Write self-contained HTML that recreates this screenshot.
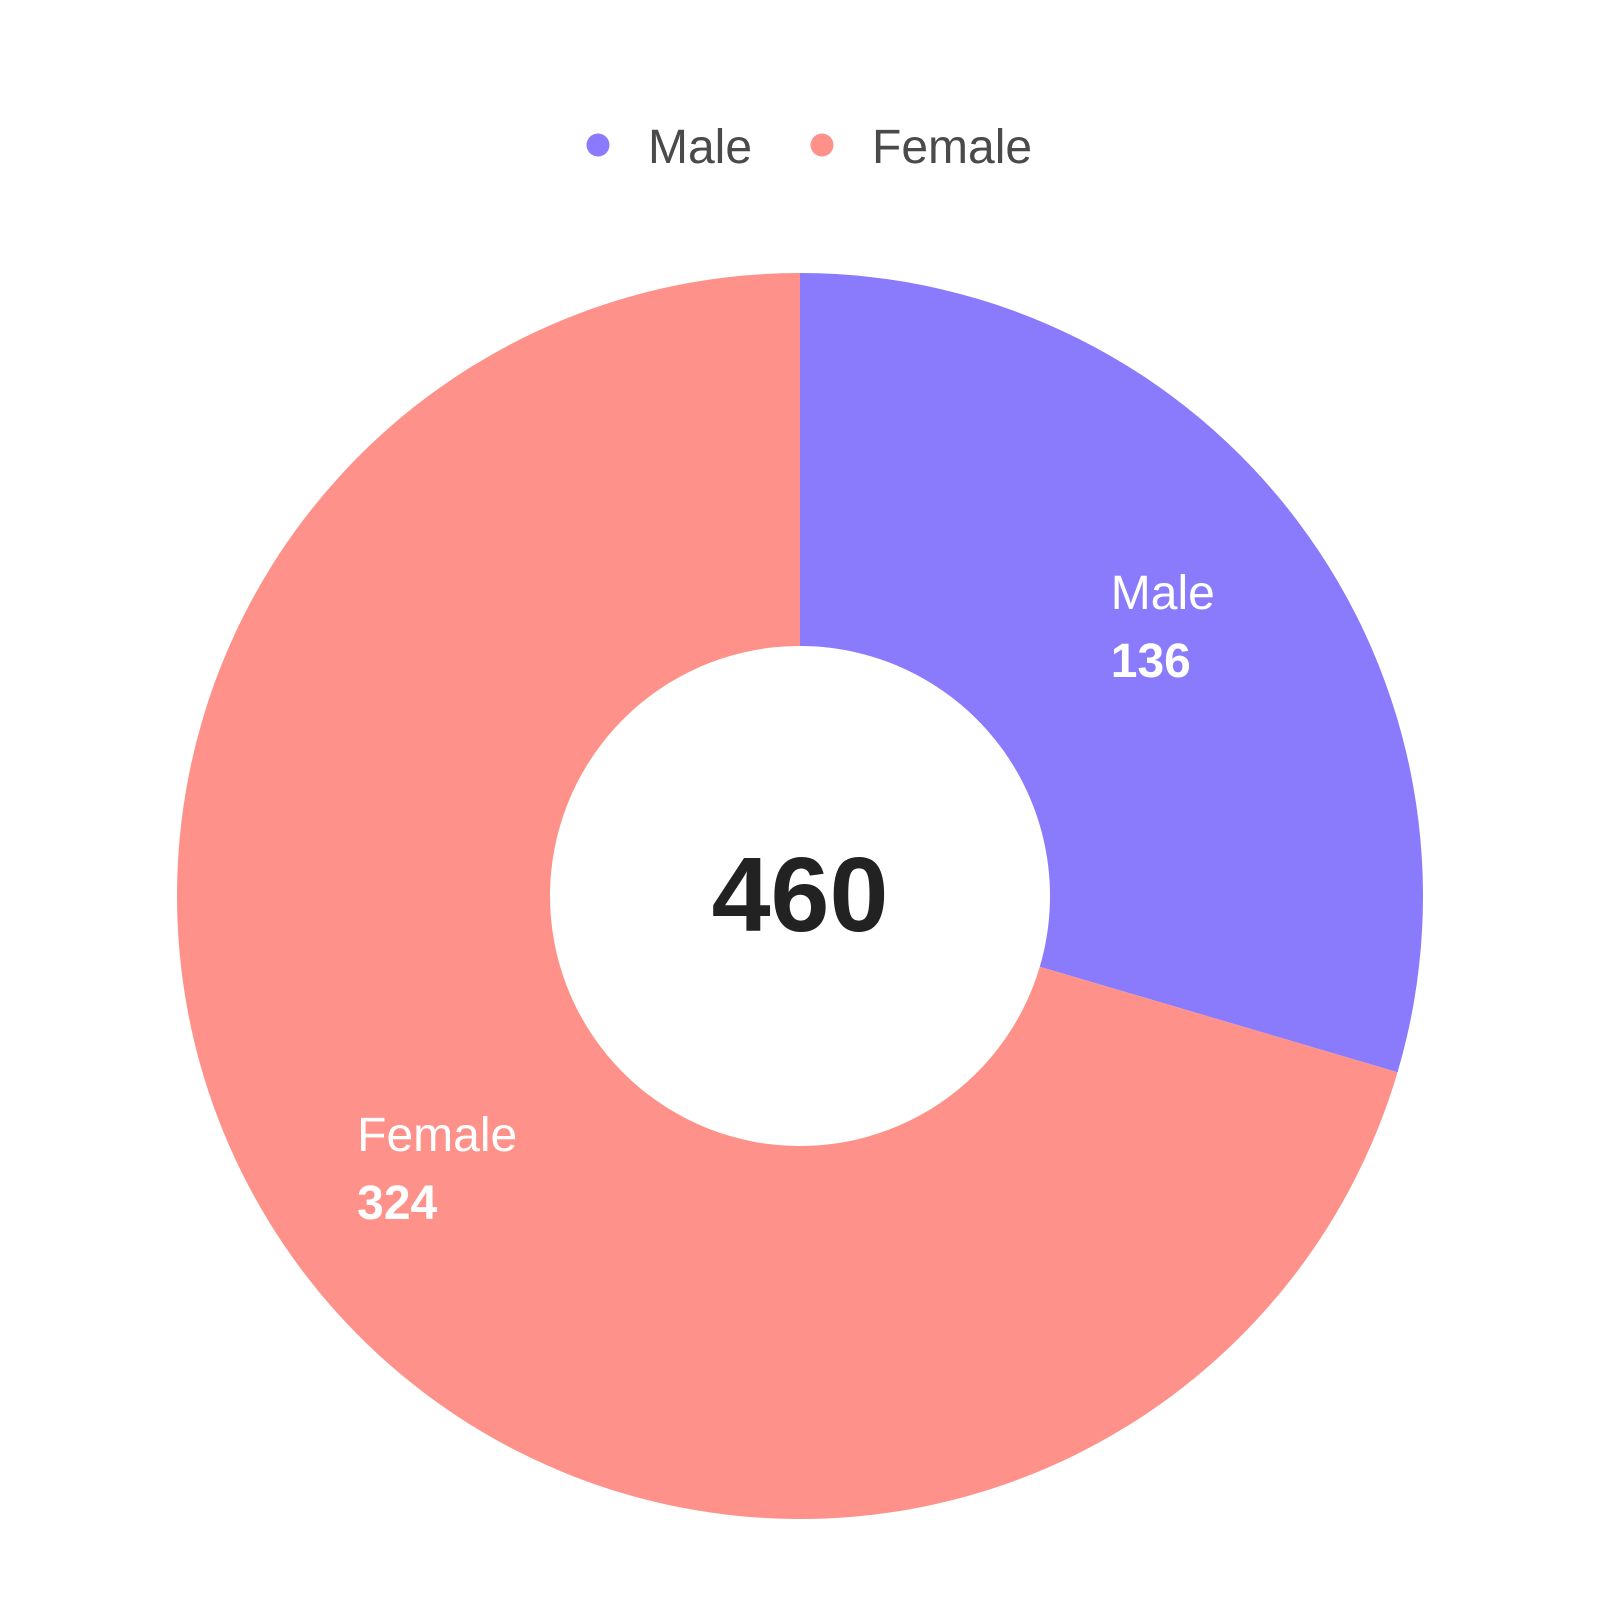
<!DOCTYPE html>
<html><head><meta charset="utf-8"><style>
html,body{margin:0;padding:0;background:#fff;}
svg{display:block;font-family:"Liberation Sans",sans-serif;}
</style></head><body>
<svg id="chart" width="1600" height="1600" viewBox="0 0 1600 1600">
  <g>
    <g>
      <circle cx="598" cy="145" r="11.5" fill="#8a7bfd"/>
      <text x="648" y="163" font-size="48" fill="#4a4a4a">Male</text>
    </g>
    <g>
      <circle cx="822" cy="145" r="11.5" fill="#fe928b"/>
      <text x="872" y="163" font-size="48" fill="#4a4a4a">Female</text>
    </g>
  </g>
  <g id="slices"></g>
  <text x="800" y="931" font-size="106" font-weight="bold" fill="#222" text-anchor="middle">460</text>
</svg>
<script>
const categories = ["Male", "Female"];
const values = [136, 324];
const colors = ["#8a7bfd", "#fe928b"];

const cx = 800, cy = 896, R = 623, r = 250, RL = 453;
const g = document.getElementById('slices');
const NS = "http://www.w3.org/2000/svg";
const total = values.reduce((a, b) => a + b, 0);
function pt(rad, a) { return [cx + rad * Math.sin(a), cy - rad * Math.cos(a)]; }
let start = 0;
values.forEach((v, i) => {
  const end = start + v / total * 2 * Math.PI;
  const large = (end - start) > Math.PI ? 1 : 0;
  const [x1, y1] = pt(R, start), [x2, y2] = pt(R, end), [x3, y3] = pt(r, end), [x4, y4] = pt(r, start);
  const p = document.createElementNS(NS, 'path');
  p.setAttribute('d', `M${x1},${y1} A${R},${R} 0 ${large} 1 ${x2},${y2} L${x3},${y3} A${r},${r} 0 ${large} 0 ${x4},${y4} Z`);
  p.setAttribute('fill', colors[i]);
  
  
  g.appendChild(p);
  const mid = (start + end) / 2;
  const [lx, ly] = pt(RL, mid);
  const t1 = document.createElementNS(NS, 'text');
  t1.textContent = categories[i];
  t1.setAttribute('font-size', '48');
  t1.setAttribute('fill', '#fff');
  
  
  g.appendChild(t1);
  const t2 = document.createElementNS(NS, 'text');
  t2.textContent = String(v);
  t2.setAttribute('font-size', '48');
  t2.setAttribute('font-weight', 'bold');
  t2.setAttribute('fill', '#fff');
  
  
  g.appendChild(t2);
  const w = Math.max(t1.getComputedTextLength(), t2.getComputedTextLength());
  const left = lx - w / 2;
  t1.setAttribute('x', left); t1.setAttribute('y', ly - 16);
  t2.setAttribute('x', left); t2.setAttribute('y', ly + 52);
  start = end;
});
</script>
</body></html>
